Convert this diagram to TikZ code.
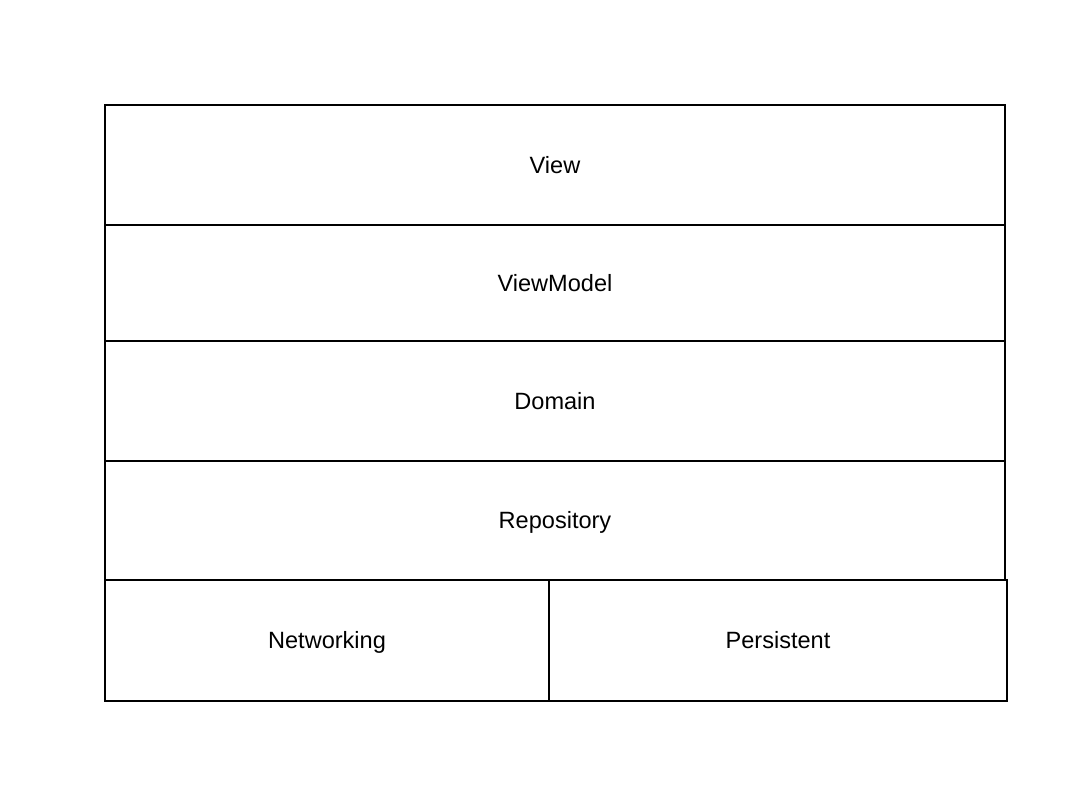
\documentclass[tikz,border=0pt]{standalone}
\usepackage{fontspec}
\setmainfont{Liberation Sans}
\tikzset{layer/.style={rectangle, draw, line width=0.8pt, inner sep=0pt, text height=0.92em, text depth=0pt, font=\fontsize{13.4}{16}\selectfont}}
\begin{document}
\begin{tikzpicture}[x=0.02cm, y=-0.02cm]
    \useasboundingbox (0,0) rectangle (1084,808);
    \node[layer, minimum width=18cm, minimum height=2.4cm] (view) at (555,165) {View};
    \node[layer, minimum width=18cm, minimum height=2.32cm] (viewmodel) at (555,283) {ViewModel};
    \node[layer, minimum width=18cm, minimum height=2.4cm] (domain) at (555,401) {Domain};
    \node[layer, minimum width=18cm, minimum height=2.38cm] (repo) at (555,520.5) {Repository};
    \node[layer, minimum width=8.88cm, minimum height=2.42cm] (net) at (327,640.5) {Networking};
    \node[layer, minimum width=9.16cm, minimum height=2.42cm] (persist) at (778,640.5) {Persistent};
\end{tikzpicture}
\end{document}
